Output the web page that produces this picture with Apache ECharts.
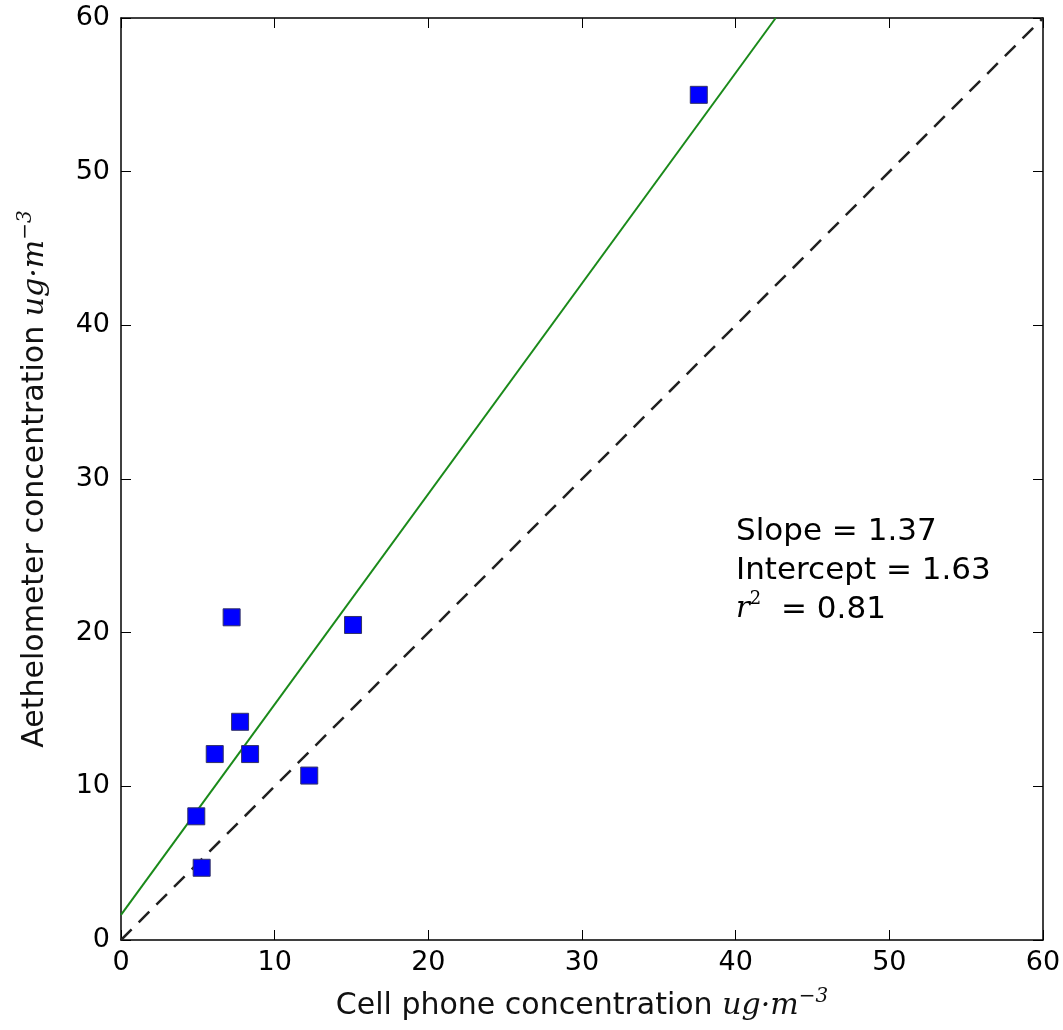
<!DOCTYPE html>
<html>
<head>
<meta charset="utf-8">
<script src="https://cdn.jsdelivr.net/npm/echarts@6/dist/echarts.min.js"></script>
<style>html,body{margin:0;padding:0;background:#fff;}#c{width:1063px;height:1030px;}</style>
</head>
<body>
<div id="c"></div>
<script>
const cellPhone = [37.6, 7.2, 15.1, 7.75, 6.1, 8.4, 12.25, 4.9, 5.25];
const aethalometer = [55.0, 21.0, 20.5, 14.2, 12.1, 12.1, 10.7, 8.05, 4.7];
const fitSlope = 1.37;
const fitIntercept = 1.63;
const r2 = 0.81;
const axisTicks = [0, 10, 20, 30, 40, 50, 60];

const points = cellPhone.map((x, i) => [x, aethalometer[i]]);
const fitLine = [[0, fitIntercept], [(60 - fitIntercept) / fitSlope, 60]];
const oneToOne = [[0, 0], [60, 60]];

const F = 'DejaVu Sans';
const labelStyle = {fontFamily: F, fontSize: 27, color: '#000'};
const mathRich = {
  n: {fontFamily: F, fontSize: 30, color: '#111'},
  m: {fontFamily: 'DejaVu Serif', fontStyle: 'italic', fontSize: 30, color: '#111'},
  s: {fontFamily: 'DejaVu Serif', fontStyle: 'italic', fontSize: 20, color: '#111', verticalAlign: 'top', padding: [0, 0, 18, 0]}
};
const baseAxis = (pos, show) => ({
  type: 'value', min: axisTicks[0], max: axisTicks[axisTicks.length - 1], interval: axisTicks[1] - axisTicks[0], position: pos,
  axisLine: {show: true, onZero: false, lineStyle: {color: '#000', width: 1.5}},
  axisTick: {show: true, inside: true, length: 10, lineStyle: {color: '#000', width: 1}},
  axisLabel: show ? Object.assign({margin: 8}, labelStyle) : {show: false},
  splitLine: {show: false}
});

const xMain = Object.assign(baseAxis('bottom', true), {
  name: '{n|Cell phone concentration }{m|ug·m}{s|−3}',
  nameLocation: 'middle', nameGap: 47,
  nameTextStyle: {rich: mathRich}
});
xMain.axisLabel.margin = 9;
const yMain = Object.assign(baseAxis('left', true), {
  name: '{n|Aethelometer concentration }{m|ug·m}{s|−3}',
  nameLocation: 'middle', nameGap: 67,
  nameTextStyle: {rich: mathRich}
});
yMain.axisLabel.margin = 11;

const chart = echarts.init(document.getElementById('c'));
chart.setOption({
  backgroundColor: '#fff',
  animation: false,
  grid: {left: 121, top: 18, width: 922, height: 922, containLabel: false, outerBoundsMode: 'none'},
  xAxis: [xMain, baseAxis('top', false)],
  yAxis: [yMain, baseAxis('right', false)],
  series: [
    {type: 'line', data: oneToOne, symbol: 'none', xAxisIndex: 0, yAxisIndex: 0,
     lineStyle: {color: '#222', width: 2.5, type: [15, 10]}, z: 2},
    {type: 'line', data: fitLine, symbol: 'none', xAxisIndex: 0, yAxisIndex: 0,
     lineStyle: {color: '#1a8a1a', width: 2}, z: 3},
    {type: 'scatter', data: points, symbol: 'rect', symbolSize: 17, xAxisIndex: 0, yAxisIndex: 0,
     itemStyle: {color: '#0000ff', opacity: 1, borderColor: '#333366', borderWidth: 1}, z: 5}
  ],
  graphic: [{
    type: 'text', left: 736, top: 516,
    style: {
      text: '{t|Slope = ' + fitSlope.toFixed(2) + '}\n{t|Intercept = ' + fitIntercept.toFixed(2) + '}\n{r|r}{s|2}{t|  = ' + r2.toFixed(2) + '}',
      rich: {
        t: {fontFamily: F, fontSize: 31, color: '#000', lineHeight: 39},
        r: {fontFamily: 'DejaVu Serif', fontStyle: 'italic', fontSize: 29, color: '#000', lineHeight: 39},
        s: {fontFamily: 'DejaVu Serif', fontSize: 18, color: '#000', verticalAlign: 'top', padding: [0, 0, 16, 0], lineHeight: 39}
      }
    }
  }]
});
</script>
</body>
</html>
